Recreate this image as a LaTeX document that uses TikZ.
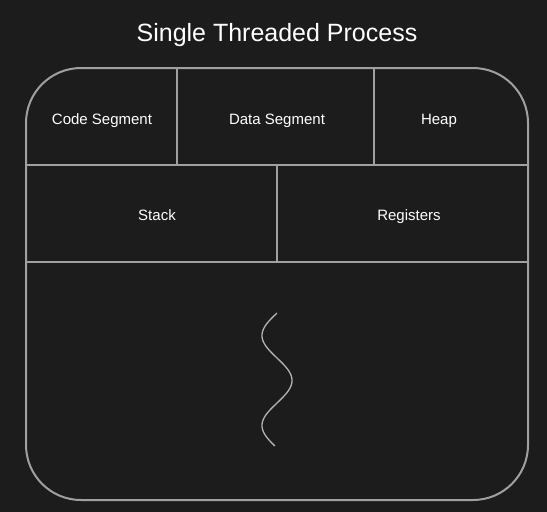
\documentclass[tikz,border=0pt]{standalone}
\usepackage{fontspec}
\setmainfont{Liberation Sans}
\definecolor{bg}{HTML}{1C1C1C}
\definecolor{ln}{HTML}{A0A0A0}
\tikzset{
  cell/.style={line width=2pt, draw=ln},
  lbl/.style={text=white, font=\fontsize{15}{18}\selectfont, inner sep=0pt, anchor=base},
  ttl/.style={text=white, font=\fontsize{25}{30}\selectfont, inner sep=0pt, anchor=base}
}
\begin{document}
\begin{tikzpicture}[x=1pt,y=-1pt]
\fill[bg] (0,0) rectangle (547,512);
\useasboundingbox (0,0) rectangle (547,512);
\node[ttl] (title) at (277,41) {Single Threaded Process};
\draw[cell, rounded corners=55pt] (26,68) rectangle (528,500);
\draw[cell] (26,165) -- (528,165);
\draw[cell] (26,262) -- (528,262);
\draw[cell] (177,68) -- (177,165);
\draw[cell] (374,68) -- (374,165);
\draw[cell] (277,165) -- (277,262);
\node[lbl] (code) at (102,124.5) {Code Segment};
\node[lbl] (data) at (277,124.5) {Data Segment};
\node[lbl] (heap) at (439,124.5) {Heap};
\node[lbl] (stack) at (157,220.5) {Stack};
\node[lbl] (regs) at (409,220.5) {Registers};
\draw[line width=1.3pt, draw=ln!80!white] plot[domain=313:446, samples=120, smooth] ({277-15*sin(4*(\x-313))}, \x);
\end{tikzpicture}
\end{document}
